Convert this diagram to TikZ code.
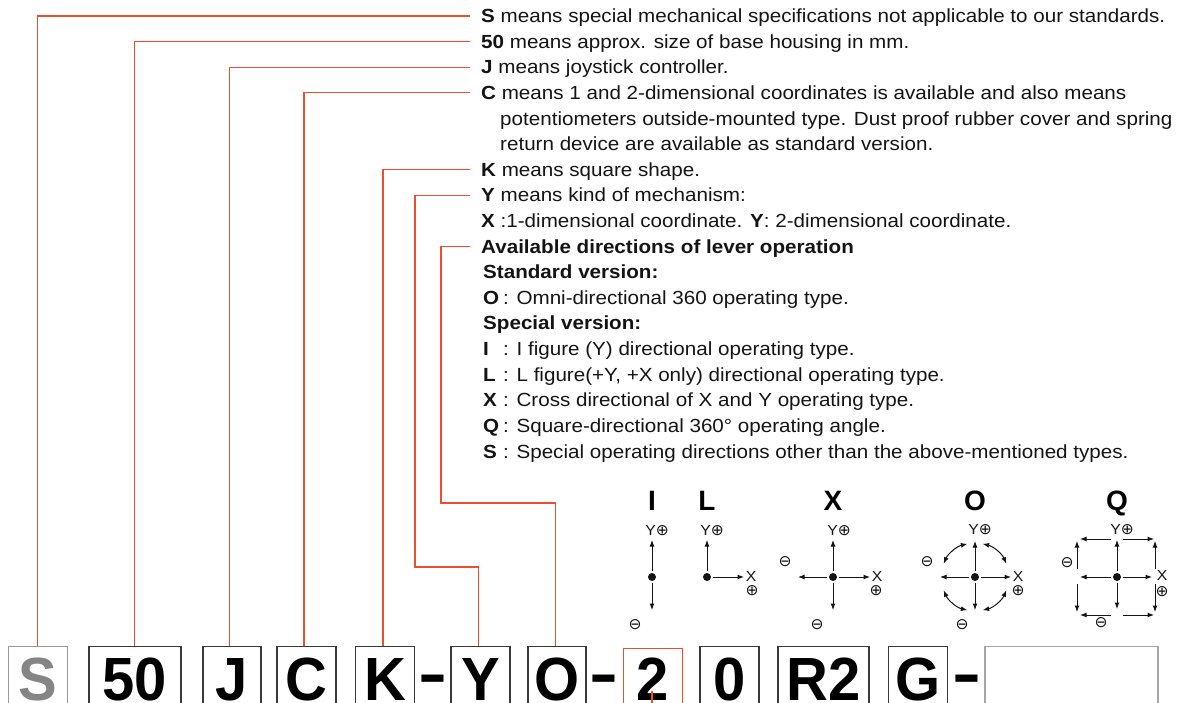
\documentclass[tikz,border=0pt]{standalone}
\usepackage{fontspec}
\setmainfont{Liberation Sans}[FakeStretch=1.085]
\newfontfamily\plainsans{Liberation Sans}
\newfontfamily\boxfont{Liberation Sans}[FakeStretch=0.95]
\newfontfamily\symfont{DejaVu Sans}
\usetikzlibrary{arrows.meta,calc}
\definecolor{lred}{HTML}{EB4F2E}
\definecolor{ink}{HTML}{141414}
\definecolor{boxgray}{HTML}{3A3A3A}
\newcommand{\lt}[1]{\makebox[20pt][l]{\textbf{#1}}}
\newcommand{\cp}{{\symfont\fontsize{15.5}{16}\selectfont ⊕}}
\newcommand{\cm}{{\symfont\fontsize{15.5}{16}\selectfont ⊖}}
\begin{document}
\begin{tikzpicture}[x=1pt,y=-1pt,
  txt/.style={anchor=base west, inner sep=0pt, text height=13.6pt, text depth=0pt,
    font=\fontsize{19}{23}\selectfont, text=ink},
  redline/.style={draw=lred, line width=1.3pt},
  codebox/.style={draw=boxgray, line width=1.4pt, anchor=north, inner xsep=0pt, inner ysep=9pt,
    text height=45pt, text depth=0pt, minimum width=59pt,
    font=\boxfont\bfseries\fontsize{61}{61}\selectfont, text=black},
  dashsep/.style={anchor=base, inner sep=0pt, font=\boxfont\bfseries\fontsize{61}{61}\selectfont, text=black},
  dot/.style={circle, fill=ink, inner sep=0pt, minimum size=8pt},
  arr/.style={draw=ink, line width=1pt, -{Latex[length=6.5pt,width=5pt]}, shorten <=1.5pt},
  darr/.style={draw=ink, line width=1pt, {Latex[length=6.5pt,width=5pt]}-{Latex[length=6.5pt,width=5pt]}},
  sarr/.style={draw=ink, line width=1pt, -{Latex[length=6.5pt,width=5pt]}},
  lbl/.style={inner sep=0pt, font=\fontsize{14.5}{15}\selectfont, text=ink},
  ttl/.style={anchor=base, inner sep=0pt, font=\plainsans\bfseries\fontsize{28}{28}\selectfont, text=black}
]
\useasboundingbox (0,0) rectangle (1186,703);
\clip (0,0) rectangle (1186,703);

% ---------- text rows ----------
\node[txt] (tS)  at (481,22.8)  {\textbf{S} means special mechanical specifications not applicable to our standards.};
\node[txt] (t50) at (481,48.4)  {\textbf{50} means approx. size of base housing in mm.};
\node[txt] (tJ)  at (481,74.0)  {\textbf{J} means joystick controller.};
\node[txt] (tC)  at (481,99.6)  {\textbf{C} means 1 and 2-dimensional coordinates is available and also means};
\node[txt] (tC2) at (500,125.2) {potentiometers outside-mounted type. Dust proof rubber cover and spring};
\node[txt] (tC3) at (500,150.8) {return device are available as standard version.};
\node[txt] (tK)  at (481,176.4) {\textbf{K} means square shape.};
\node[txt] (tY)  at (481,202.0) {\textbf{Y} means kind of mechanism:};
\node[txt] (tX)  at (481,227.6) {\textbf{X} :1-dimensional coordinate. \textbf{Y}: 2-dimensional coordinate.};
\node[txt] (tAv) at (481,253.2) {\textbf{Available directions of lever operation}};
\node[txt] (tSt) at (483,278.8) {\textbf{Standard version:}};
\node[txt] (tO)  at (483,304.4) {\lt{O}: Omni-directional 360 operating type.};
\node[txt] (tSp) at (483,330.0) {\textbf{Special version:}};
\node[txt] (tI)  at (483,355.6) {\lt{I}: I figure (Y) directional operating type.};
\node[txt] (tL)  at (483,381.2) {\lt{L}: L figure(+Y, +X only) directional operating type.};
\node[txt] (tXX) at (483,406.8) {\lt{X}: Cross directional of X and Y operating type.};
\node[txt] (tQ)  at (483,432.4) {\lt{Q}: Square-directional 360° operating angle.};
\node[txt] (tSS) at (483,458.0) {\lt{S}: Special operating directions other than the above-mentioned types.};

% ---------- code boxes ----------
\node[codebox, draw=black!40, text=black!48] (bS) at (38,646) {S};
\node[codebox, minimum width=92pt] (b50) at (135,646) {50};
\node[codebox, minimum width=58pt] (bJ) at (232,646) {J};
\node[codebox] (bC) at (306.5,646) {C};
\node[codebox] (bK) at (385,646) {K};
\node[dashsep] (d1) at (432.5,694) {\scalebox{1.5}[1]{-}};
\node[codebox] (bY) at (480.5,646) {Y};
\node[codebox, minimum width=58pt] (bO) at (557,646) {O};
\node[dashsep] (d2) at (603.5,694) {\scalebox{1.5}[1]{-}};
\node[codebox, draw=lred, line width=1.2pt, text height=43pt] (b2) at (653,648) {2};
\node[codebox] (b0) at (729.5,646) {0};
\node[codebox, minimum width=91pt] (bR) at (823.5,646) {R2};
\node[codebox] (bG) at (918,646) {G};
\node[dashsep] (d3) at (967,694) {\scalebox{1.5}[1]{-}};
\node[codebox, draw=black!35, minimum width=173pt] (bE) at (1071.5,646) {};

% ---------- red connectors ----------
\coordinate (ybend) at (415,567);
\coordinate (abend) at (441,503);
\draw[redline] ([xshift=-11pt]tS.west)  -| ([xshift=-0.5pt]bS.north);
\draw[redline] ([xshift=-11pt]t50.west) -| ([xshift=-0.5pt]b50.north);
\draw[redline] ([xshift=-11pt]tJ.west)  -| ([xshift=-2.5pt]bJ.north);
\draw[redline] ([xshift=-11pt]tC.west)  -| ([xshift=-2.5pt]bC.north);
\draw[redline] ([xshift=-11pt]tK.west)  -| ([xshift=-2pt]bK.north);
\draw[redline] ([xshift=-11pt]tY.west)  -| (ybend) -| ([xshift=-2pt]bY.north);
\draw[redline] ([xshift=-11pt]tAv.west) -| (abend) -| ([xshift=-1.5pt]bO.north);
\draw[redline] ([xshift=-1pt,yshift=-43pt]b2.north) -- ++(0,20);

% ---------- direction diagrams ----------
\node[ttl] (hI) at (652,510) {I};
\node[ttl] (hL) at (707,510) {L};
\node[ttl] (hX) at (833,510) {X};
\node[ttl] (hO) at (975,510) {O};
\node[ttl] (hQ) at (1117,510) {Q};

% I
\node[dot] (dI) at (652,577) {};
\coordinate (iU) at (652,540); \coordinate (iD) at (652,610);
\draw[arr] (dI) -- (iU);
\draw[arr] (dI) -- (iD);
\node[lbl] (iYl) at (657,531) {Y\cp};
\node[lbl] (iMl) at (635,625) {\cm};

% L
\node[dot] (dL) at (707,577) {};
\coordinate (lU) at (707,540); \coordinate (lR) at (744,577);
\draw[arr] (dL) -- (lU);
\draw[arr] (dL) -- (lR);
\node[lbl] (lYl) at (712,531) {Y\cp};
\node[lbl] (lXl) at (751,577) {X};
\node[lbl] (lPl) at (752,591) {\cp};

% X
\node[dot] (dX) at (833,577) {};
\coordinate (xU) at (833,540); \coordinate (xD) at (833,610);
\coordinate (xL) at (798,577); \coordinate (xR) at (870,577);
\draw[arr] (dX) -- (xU);
\draw[arr] (dX) -- (xD);
\draw[arr] (dX) -- (xL);
\draw[arr] (dX) -- (xR);
\node[lbl] (xYl) at (839,531) {Y\cp};
\node[lbl] (xXl) at (877,577) {X};
\node[lbl] (xPl) at (876,591) {\cp};
\node[lbl] (xMl) at (785,562) {\cm};
\node[lbl] (xM2) at (817,625) {\cm};

% O
\node[dot] (dO) at (975,577) {};
\coordinate (oU) at (975,541); \coordinate (oD) at (975,610);
\coordinate (oL) at (940,577); \coordinate (oR) at (1011,577);
\draw[arr] (dO) -- (oU);
\draw[arr] (dO) -- (oD);
\draw[arr] (dO) -- (oL);
\draw[arr] (dO) -- (oR);
\draw[darr] ($(dO.center)+(-157:34)$) arc (-157:-103:34);
\draw[darr] ($(dO.center)+(-77:34)$) arc (-77:-23:34);
\draw[darr] ($(dO.center)+(157:34)$) arc (157:103:34);
\draw[darr] ($(dO.center)+(77:34)$) arc (77:23:34);
\node[lbl] (oYl) at (980,530) {Y\cp};
\node[lbl] (oXl) at (1018,577) {X};
\node[lbl] (oPl) at (1018,591) {\cp};
\node[lbl] (oMl) at (927,562) {\cm};
\node[lbl] (oM2) at (962,625) {\cm};

% Q
\node[dot] (dQ) at (1117,577) {};
\coordinate (qU) at (1117,540); \coordinate (qD) at (1117,609);
\coordinate (qL) at (1080,577); \coordinate (qR) at (1152,577);
\draw[arr] (dQ) -- (qU);
\draw[arr] (dQ) -- (qD);
\draw[arr] (dQ) -- (qL);
\draw[arr] (dQ) -- (qR);
\draw[sarr] (1111,539) -- (1080,539);
\draw[sarr] (1123,539) -- (1154,539);
\draw[sarr] (1111,615) -- (1080,615);
\draw[sarr] (1123,615) -- (1154,615);
\draw[sarr] (1077,569) -- (1077,541);
\draw[sarr] (1077,584) -- (1077,612);
\draw[sarr] (1155,569) -- (1155,541);
\draw[sarr] (1155,584) -- (1155,612);
\node[lbl] (qYl) at (1122,530) {Y\cp};
\node[lbl] (qXl) at (1162,576) {X};
\node[lbl] (qPl) at (1162,592) {\cp};
\node[lbl] (qMl) at (1067,563) {\cm};
\node[lbl] (qM2) at (1101,623) {\cm};
\end{tikzpicture}
\end{document}
